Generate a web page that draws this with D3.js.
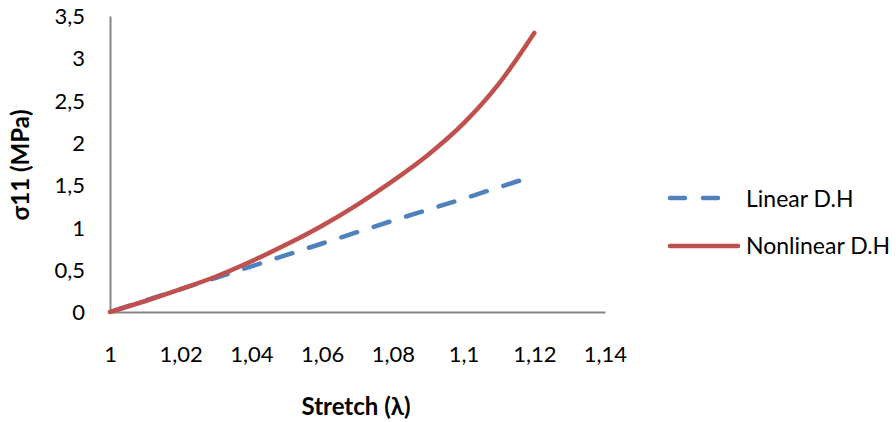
<!DOCTYPE html>
<html><head><meta charset="utf-8">
<script src="https://cdn.jsdelivr.net/npm/d3@7"></script>
<style>
html,body{margin:0;padding:0;background:#fff;}
svg text{font-family:Lato,"Open Sans","DejaVu Sans",sans-serif;fill:#000;}
</style>
</head><body>
<svg id="chart" width="896" height="422"></svg>
<script>
const stretch = [1, 1.01, 1.02, 1.03, 1.04, 1.05, 1.06, 1.07, 1.08, 1.09, 1.1, 1.11, 1.12];
const linearDH = [0, 0.135, 0.27, 0.405, 0.54, 0.675, 0.81, 0.945, 1.08, 1.21, 1.34, 1.475, 1.61];
const nonlinearDH = [0, 0.13, 0.27, 0.42, 0.6, 0.8, 1.02, 1.27, 1.55, 1.86, 2.23, 2.7, 3.3];
const xTicks = [1, 1.02, 1.04, 1.06, 1.08, 1.1, 1.12, 1.14];
const yTicks = [0, 0.5, 1, 1.5, 2, 2.5, 3, 3.5];
const seriesNames = ["Linear D.H", "Nonlinear D.H"];
const colors = ["#4F81BD", "#C0504D"];
const xTitle = "Stretch (λ)";
const yTitle = "σ11 (MPa)";

const svg = d3.select("#chart");
const x = d3.scaleLinear().domain([1, 1.14]).range([110, 605]);
const y = d3.scaleLinear().domain([0, 3.5]).range([312, 16]);
const fmt = d => String(d).replace(".", ",");

// axes
const xAxis = svg.append("g").attr("transform", "translate(0,312)")
  .call(d3.axisBottom(x).tickValues(xTicks).tickSize(0).tickPadding(0).tickFormat(fmt));
xAxis.select(".domain").attr("stroke", "#868686").attr("stroke-width", 2);
xAxis.selectAll("text").attr("dy", null).attr("y", 50).attr("font-size", 22);

const yAxis = svg.append("g").attr("transform", "translate(110,0)")
  .call(d3.axisLeft(y).tickValues(yTicks).tickSize(0).tickPadding(0).tickFormat(fmt));
yAxis.select(".domain").attr("stroke", "#868686").attr("stroke-width", 2);
yAxis.selectAll("text").attr("x", -25).attr("dy", "0.35em").attr("font-size", 22);

svg.selectAll("g text").style("font-family", "Lato, 'Open Sans', sans-serif");

// lines
const lineGen = vals => d3.line().curve(d3.curveMonotoneX)
  .x((d, i) => x(stretch[i])).y(d => y(d))(vals);

const blue = svg.append("path").attr("d", lineGen(linearDH))
  .attr("fill", "none").attr("stroke", colors[0]).attr("stroke-width", 4.5)
  .attr("stroke-linecap", "round").attr("stroke-dasharray", "16.5,17.5");
const L = blue.node().getTotalLength();
const off = ((16.5 - (L - 16)) % 34 + 34) % 34;
blue.attr("stroke-dashoffset", off);

svg.append("path").attr("d", lineGen(nonlinearDH))
  .attr("fill", "none").attr("stroke", colors[1]).attr("stroke-width", 4.5)
  .attr("stroke-linecap", "round").attr("stroke-linejoin", "round");

// titles
svg.append("text").attr("x", 356).attr("y", 415).attr("text-anchor", "middle")
  .attr("font-size", 24).attr("font-weight", "bold").text(xTitle);
svg.append("text").attr("transform", "translate(29,165) rotate(-90)")
  .attr("text-anchor", "middle").attr("font-size", 24).attr("font-weight", "bold").text(yTitle);

// legend
const leg = svg.append("g");
leg.append("line").attr("x1", 670).attr("x2", 722).attr("y1", 198).attr("y2", 198)
  .attr("stroke", colors[0]).attr("stroke-width", 4.5).attr("stroke-linecap", "round")
  .attr("stroke-dasharray", "15,18");
leg.append("line").attr("x1", 670).attr("x2", 738).attr("y1", 246).attr("y2", 246)
  .attr("stroke", colors[1]).attr("stroke-width", 4.5).attr("stroke-linecap", "round");
leg.append("text").attr("x", 746).attr("y", 207).attr("font-size", 23).text(seriesNames[0]);
leg.append("text").attr("x", 746).attr("y", 254).attr("font-size", 23).text(seriesNames[1]);
</script>
</body></html>
